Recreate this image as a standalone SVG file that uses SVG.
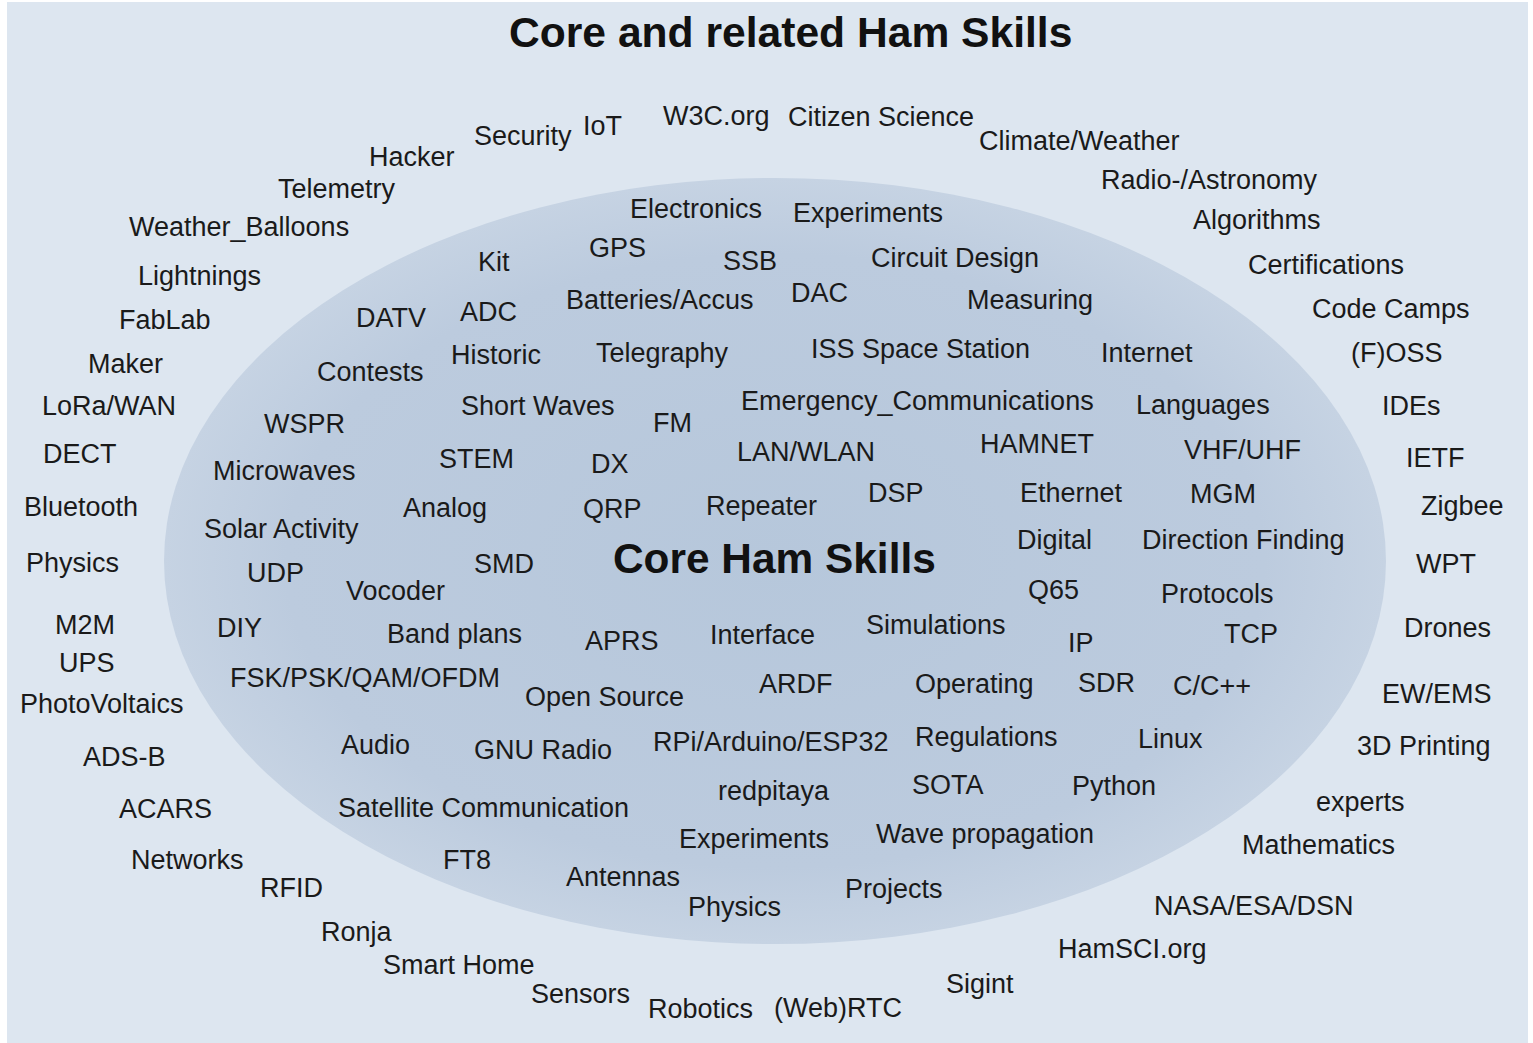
<svg xmlns="http://www.w3.org/2000/svg" width="1533" height="1043" viewBox="0 0 1533 1043">
<style>
text{font-family:"Liberation Sans",Arial,sans-serif;font-size:27px;fill:#1a1a1a}
.t{font-size:42.6px;font-weight:bold;fill:#111}
</style>
<defs>
<radialGradient id="eg" cx="50%" cy="50%" r="50%">
<stop offset="0" stop-color="#b6c7db"/>
<stop offset="0.8" stop-color="#bccbde"/>
<stop offset="1" stop-color="#c6d3e3"/>
</radialGradient>
</defs>
<rect x="0" y="0" width="1533" height="1043" fill="#ffffff"/>
<rect id="background" x="7" y="2" width="1521" height="1041" fill="#dde6f0"/>
<ellipse id="core-area" cx="775" cy="561" rx="611" ry="383" fill="url(#eg)"/>
<g id="connectors"/>
<g id="title"><text class="t" x="509" y="47">Core and related Ham Skills</text></g>
<g id="core-ham-skills"><text class="t" x="613" y="573" style="font-size:42.4px">Core Ham Skills</text></g>
<g id="n-hacker"><text x="369" y="166">Hacker</text></g>
<g id="n-security"><text x="474" y="145">Security</text></g>
<g id="n-iot"><text x="583" y="135">IoT</text></g>
<g id="n-w3c"><text x="663" y="125">W3C.org</text></g>
<g id="n-citizen-science"><text x="788" y="126">Citizen Science</text></g>
<g id="n-climate"><text x="979" y="150">Climate/Weather</text></g>
<g id="n-telemetry"><text x="278" y="198">Telemetry</text></g>
<g id="n-weather-balloons"><text x="129" y="236">Weather_Balloons</text></g>
<g id="n-lightnings"><text x="138" y="285">Lightnings</text></g>
<g id="n-fablab"><text x="119" y="329">FabLab</text></g>
<g id="n-maker"><text x="88" y="373">Maker</text></g>
<g id="n-lorawan"><text x="42" y="415">LoRa/WAN</text></g>
<g id="n-dect"><text x="43" y="463">DECT</text></g>
<g id="n-bluetooth"><text x="24" y="516">Bluetooth</text></g>
<g id="n-physics-1"><text x="26" y="572">Physics</text></g>
<g id="n-m2m"><text x="55" y="634">M2M</text></g>
<g id="n-ups"><text x="59" y="672">UPS</text></g>
<g id="n-photovoltaics"><text x="20" y="713">PhotoVoltaics</text></g>
<g id="n-adsb"><text x="83" y="766">ADS-B</text></g>
<g id="n-acars"><text x="119" y="818">ACARS</text></g>
<g id="n-networks"><text x="131" y="869">Networks</text></g>
<g id="n-rfid"><text x="260" y="897">RFID</text></g>
<g id="n-ronja"><text x="321" y="941">Ronja</text></g>
<g id="n-smart-home"><text x="383" y="974">Smart Home</text></g>
<g id="n-sensors"><text x="531" y="1003">Sensors</text></g>
<g id="n-robotics"><text x="648" y="1018">Robotics</text></g>
<g id="n-webrtc"><text x="774" y="1017">(Web)RTC</text></g>
<g id="n-sigint"><text x="946" y="993">Sigint</text></g>
<g id="n-hamsci"><text x="1058" y="958">HamSCI.org</text></g>
<g id="n-nasa"><text x="1154" y="915">NASA/ESA/DSN</text></g>
<g id="n-mathematics"><text x="1242" y="854">Mathematics</text></g>
<g id="n-experts"><text x="1316" y="811">experts</text></g>
<g id="n-3d-printing"><text x="1357" y="755">3D Printing</text></g>
<g id="n-ew-ems"><text x="1382" y="703">EW/EMS</text></g>
<g id="n-drones"><text x="1404" y="637">Drones</text></g>
<g id="n-wpt"><text x="1416" y="573">WPT</text></g>
<g id="n-zigbee"><text x="1421" y="515">Zigbee</text></g>
<g id="n-ietf"><text x="1406" y="467">IETF</text></g>
<g id="n-ides"><text x="1382" y="415">IDEs</text></g>
<g id="n-foss"><text x="1351" y="362">(F)OSS</text></g>
<g id="n-code-camps"><text x="1312" y="318">Code Camps</text></g>
<g id="n-certifications"><text x="1248" y="274">Certifications</text></g>
<g id="n-algorithms"><text x="1193" y="229">Algorithms</text></g>
<g id="n-radio-astronomy"><text x="1101" y="189">Radio-/Astronomy</text></g>
<g id="n-electronics"><text x="630" y="218">Electronics</text></g>
<g id="n-experiments-1"><text x="793" y="222">Experiments</text></g>
<g id="n-kit"><text x="478" y="271">Kit</text></g>
<g id="n-gps"><text x="589" y="257">GPS</text></g>
<g id="n-ssb"><text x="723" y="270">SSB</text></g>
<g id="n-circuit-design"><text x="871" y="267">Circuit Design</text></g>
<g id="n-datv"><text x="356" y="327">DATV</text></g>
<g id="n-adc"><text x="460" y="321">ADC</text></g>
<g id="n-batteries"><text x="566" y="309">Batteries/Accus</text></g>
<g id="n-dac"><text x="791" y="302">DAC</text></g>
<g id="n-measuring"><text x="967" y="309">Measuring</text></g>
<g id="n-contests"><text x="317" y="381">Contests</text></g>
<g id="n-historic"><text x="451" y="364">Historic</text></g>
<g id="n-telegraphy"><text x="596" y="362">Telegraphy</text></g>
<g id="n-iss"><text x="811" y="358">ISS Space Station</text></g>
<g id="n-internet"><text x="1101" y="362">Internet</text></g>
<g id="n-wspr"><text x="264" y="433">WSPR</text></g>
<g id="n-short-waves"><text x="461" y="415">Short Waves</text></g>
<g id="n-fm"><text x="653" y="432">FM</text></g>
<g id="n-emergency"><text x="741" y="410">Emergency_Communications</text></g>
<g id="n-languages"><text x="1136" y="414">Languages</text></g>
<g id="n-microwaves"><text x="213" y="480">Microwaves</text></g>
<g id="n-stem"><text x="439" y="468">STEM</text></g>
<g id="n-dx"><text x="591" y="473">DX</text></g>
<g id="n-lan-wlan"><text x="737" y="461">LAN/WLAN</text></g>
<g id="n-hamnet"><text x="980" y="453">HAMNET</text></g>
<g id="n-vhf-uhf"><text x="1184" y="459">VHF/UHF</text></g>
<g id="n-solar-activity"><text x="204" y="538">Solar Activity</text></g>
<g id="n-analog"><text x="403" y="517">Analog</text></g>
<g id="n-qrp"><text x="583" y="518">QRP</text></g>
<g id="n-repeater"><text x="706" y="515">Repeater</text></g>
<g id="n-dsp"><text x="868" y="502">DSP</text></g>
<g id="n-ethernet"><text x="1020" y="502">Ethernet</text></g>
<g id="n-mgm"><text x="1190" y="503">MGM</text></g>
<g id="n-udp"><text x="247" y="582">UDP</text></g>
<g id="n-smd"><text x="474" y="573">SMD</text></g>
<g id="n-digital"><text x="1017" y="549">Digital</text></g>
<g id="n-direction-finding"><text x="1142" y="549">Direction Finding</text></g>
<g id="n-vocoder"><text x="346" y="600">Vocoder</text></g>
<g id="n-q65"><text x="1028" y="599">Q65</text></g>
<g id="n-protocols"><text x="1161" y="603">Protocols</text></g>
<g id="n-diy"><text x="217" y="637">DIY</text></g>
<g id="n-band-plans"><text x="387" y="643">Band plans</text></g>
<g id="n-aprs"><text x="585" y="650">APRS</text></g>
<g id="n-interface"><text x="710" y="644">Interface</text></g>
<g id="n-simulations"><text x="866" y="634">Simulations</text></g>
<g id="n-ip"><text x="1068" y="652">IP</text></g>
<g id="n-tcp"><text x="1224" y="643">TCP</text></g>
<g id="n-fsk"><text x="230" y="687">FSK/PSK/QAM/OFDM</text></g>
<g id="n-open-source"><text x="525" y="706">Open Source</text></g>
<g id="n-ardf"><text x="759" y="693">ARDF</text></g>
<g id="n-operating"><text x="915" y="693">Operating</text></g>
<g id="n-sdr"><text x="1078" y="692">SDR</text></g>
<g id="n-cpp"><text x="1173" y="695">C/C++</text></g>
<g id="n-audio"><text x="341" y="754">Audio</text></g>
<g id="n-gnu-radio"><text x="474" y="759">GNU Radio</text></g>
<g id="n-rpi"><text x="653" y="751">RPi/Arduino/ESP32</text></g>
<g id="n-regulations"><text x="915" y="746">Regulations</text></g>
<g id="n-linux"><text x="1138" y="748">Linux</text></g>
<g id="n-satellite"><text x="338" y="817">Satellite Communication</text></g>
<g id="n-redpitaya"><text x="718" y="800">redpitaya</text></g>
<g id="n-sota"><text x="912" y="794">SOTA</text></g>
<g id="n-python"><text x="1072" y="795">Python</text></g>
<g id="n-ft8"><text x="443" y="869">FT8</text></g>
<g id="n-experiments-2"><text x="679" y="848">Experiments</text></g>
<g id="n-wave-propagation"><text x="876" y="843">Wave propagation</text></g>
<g id="n-antennas"><text x="566" y="886">Antennas</text></g>
<g id="n-projects"><text x="845" y="898">Projects</text></g>
<g id="n-physics-2"><text x="688" y="916">Physics</text></g>
</svg>
